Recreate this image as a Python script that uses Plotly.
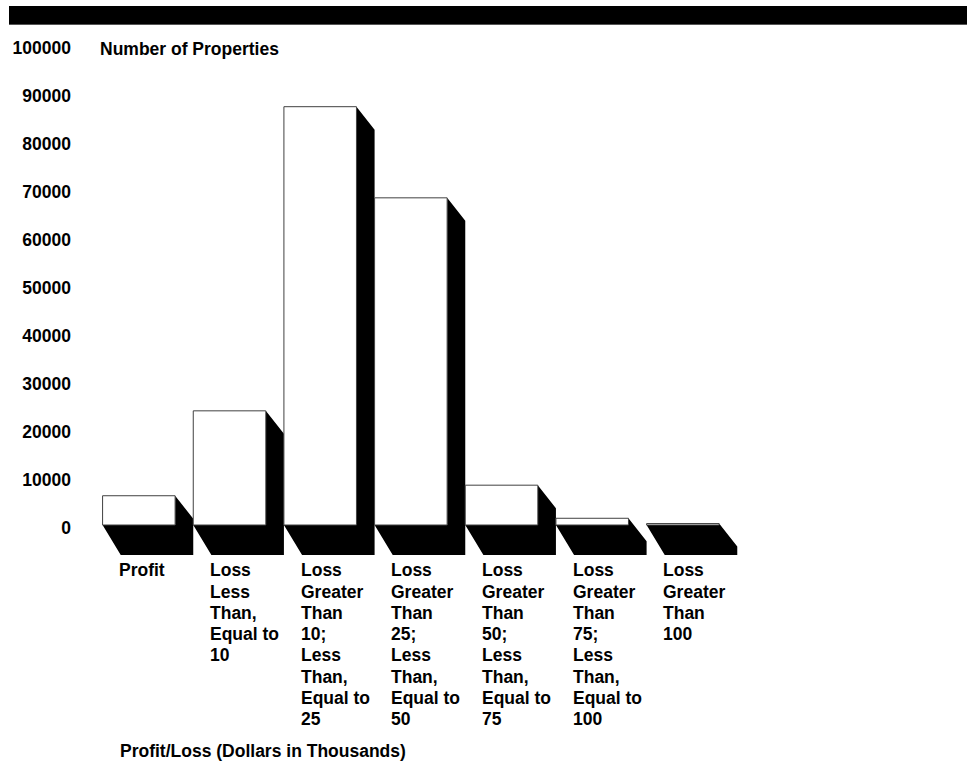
import plotly.graph_objects as go

# ---------------- data ----------------
categories = [
    "Profit",
    "Loss<br>Less<br>Than,<br>Equal to<br>10",
    "Loss<br>Greater<br>Than<br>10;<br>Less<br>Than,<br>Equal to<br>25",
    "Loss<br>Greater<br>Than<br>25;<br>Less<br>Than,<br>Equal to<br>50",
    "Loss<br>Greater<br>Than<br>50;<br>Less<br>Than,<br>Equal to<br>75",
    "Loss<br>Greater<br>Than<br>75;<br>Less<br>Than,<br>Equal to<br>100",
    "Loss<br>Greater<br>Than<br>100",
]
num_properties = [6100, 23800, 87200, 68200, 8300, 1400, 300]
y_tick_values = [0, 10000, 20000, 30000, 40000, 50000, 60000, 70000, 80000, 90000, 100000]
y_tick_labels = ["0", "10000", "20000", "30000", "40000", "50000",
                 "60000", "70000", "80000", "90000", "100000"]
y_title = "Number of Properties"
x_title = "Profit/Loss (Dollars in Thousands)"

# ---------------- layout geometry (page pixels; body margin removed) ----------------
FIG_W, FIG_H = 967, 763
PLOT_L, PLOT_R, PLOT_T, PLOT_B = 80, 947, 40, 560
ML, MT = PLOT_L, PLOT_T
PW = PLOT_R - PLOT_L
PH = PLOT_B - PLOT_T
MR = FIG_W - ML - PW
MB = FIG_H - MT - PH

PX_PER_CAT = 90.67          # pixel pitch between categories
FIRST_CENTER_PX = 138.85    # page x of first category centre
ZERO_PX = 525.0             # page y of value 0
PX_PER_UNIT = 0.004797      # pixels per property

x0 = -(FIRST_CENTER_PX - PLOT_L) / PX_PER_CAT
x1 = x0 + PW / PX_PER_CAT
y1 = (ZERO_PX - PLOT_T) / PX_PER_UNIT
y0 = (ZERO_PX - PLOT_B) / PX_PER_UNIT

BAR_W = 0.8
DEPTH_X = 0.2
DEPTH_Y = 23 / PX_PER_UNIT      # side-face drop
FLOOR_Y = -30 / PX_PER_UNIT     # floor bottom

LABEL_TOP_PX = 570.3            # centre of first label line (page y)
LABEL_PITCH_PX = 21.29


def paper_x(px):
    return (px - PLOT_L) / PW


def paper_y(py):
    return (PLOT_B - py) / PH


FONT = "Liberation Sans, Arial, Helvetica, sans-serif"
FS = 17.5

idx = list(range(len(num_properties)))

fig = go.Figure()
fig.add_trace(go.Bar(
    x=idx, y=num_properties, width=BAR_W,
    marker=dict(color="white", line=dict(color="#404040", width=1)),
    hoverinfo="y", showlegend=False,
))

shapes = []
# 3-D black side faces and floor plates
for i, v in zip(idx, num_properties):
    L = i - BAR_W / 2
    R = i + BAR_W / 2
    path = (f"M {L},0 L {L + DEPTH_X},{FLOOR_Y} L {R + DEPTH_X},{FLOOR_Y} "
            f"L {R + DEPTH_X},{v - DEPTH_Y} L {R},{v} L {R},0 Z")
    shapes.append(dict(type="path", path=path, xref="x", yref="y",
                       fillcolor="black", line=dict(width=0), layer="below"))

# top header band
shapes.append(dict(type="rect", xref="paper", yref="paper",
                   x0=paper_x(9), x1=paper_x(970), y0=paper_y(24), y1=paper_y(6),
                   fillcolor="black", line=dict(width=0), layer="above"))
shapes.append(dict(type="line", xref="paper", yref="paper",
                   x0=paper_x(9), x1=paper_x(970), y0=paper_y(24.5), y1=paper_y(24.5),
                   line=dict(color="#555555", width=1), layer="above"))

annotations = []
for i, lab in zip(idx, categories):
    for k, line in enumerate(lab.split("<br>")):
        annotations.append(dict(
            x=i - BAR_W / 2 + DEPTH_X - 0.037,
            y=paper_y(LABEL_TOP_PX + k * LABEL_PITCH_PX),
            xref="x", yref="paper",
            text=f"<b>{line}</b>", showarrow=False, xanchor="left", yanchor="middle",
            align="left", font=dict(family=FONT, size=FS, color="black"),
        ))
annotations.append(dict(
    x=paper_x(98), y=paper_y(48.5), xref="paper", yref="paper",
    text=f"<b>{y_title}</b>", showarrow=False, xanchor="left", yanchor="middle",
    font=dict(family=FONT, size=FS, color="black"),
))
annotations.append(dict(
    x=paper_x(118), y=paper_y(751), xref="paper", yref="paper",
    text=f"<b>{x_title}</b>", showarrow=False, xanchor="left", yanchor="middle",
    font=dict(family=FONT, size=FS, color="black"),
))

fig.update_layout(
    width=FIG_W, height=FIG_H,
    margin=dict(l=ML, r=MR, t=MT, b=MB, autoexpand=False),
    paper_bgcolor="white", plot_bgcolor="white",
    showlegend=False,
    shapes=shapes, annotations=annotations,
    xaxis=dict(range=[x0, x1], showgrid=False, zeroline=False, showline=False,
               showticklabels=False, ticks="", fixedrange=True),
    yaxis=dict(range=[y0, y1], showgrid=False, zeroline=False, showline=False,
               tickmode="array", tickvals=y_tick_values, ticktext=y_tick_labels,
               ticks="", ticklabelstandoff=8, ticklabelshift=3,
               tickfont=dict(family=FONT, size=FS, color="black", weight="bold"),
               fixedrange=True),
)

fig.write_html(
    "out.html",
    config={"displayModeBar": False},
    post_script="document.body.style.margin='0';document.body.style.overflow='hidden';",
)
